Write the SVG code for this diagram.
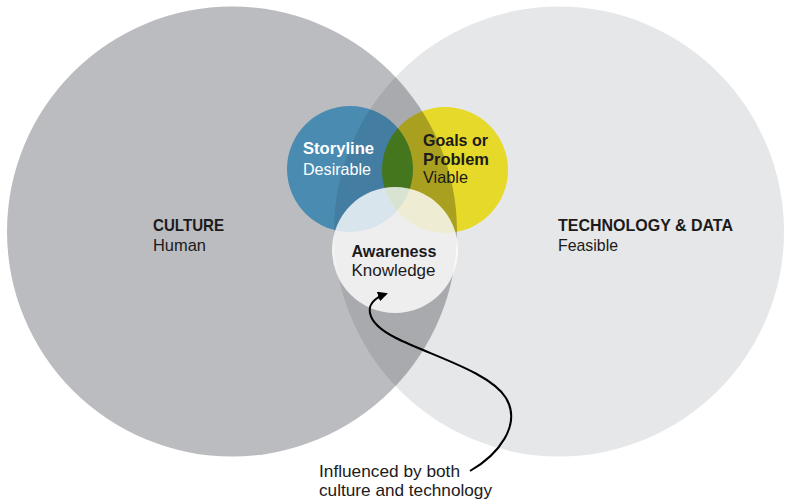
<svg xmlns="http://www.w3.org/2000/svg" width="787" height="503" viewBox="0 0 787 503">
<style>
text{font-family:"Liberation Sans",Arial,sans-serif;font-size:17px;fill:#1c1a1b}
.b{font-weight:bold}
.w{fill:#ffffff}
.mul{mix-blend-mode:multiply}
.sm{font-size:16.5px}
</style>
<defs>
<marker id="ah" viewBox="0 0 10 10" refX="8" refY="5" markerWidth="5" markerHeight="5" orient="auto" markerUnits="strokeWidth">
<path d="M0,0 L10,5 L0,10 Z" fill="#000"/>
</marker>
</defs>
<rect width="787" height="503" fill="#ffffff"/>
<g style="isolation:isolate">
<g id="culture">
<circle cx="232" cy="231.5" r="225" fill="#bbbcbf"/>
</g>
<g id="technology">
<circle class="mul" cx="559" cy="231.5" r="225" fill="#e6e7e8"/>
</g>
<g id="storyline">
<circle class="mul" cx="350" cy="169" r="63" fill="#65bcec"/>
</g>
<g id="goals">
<circle class="mul" cx="445" cy="170" r="63" fill="#fff02e"/>
</g>
<g id="awareness">
<circle cx="395" cy="250" r="63" fill="#ffffff" fill-opacity="0.8"/>
</g>
</g>
<g id="labels">
<text class="b" x="153" y="231" textLength="71" lengthAdjust="spacingAndGlyphs">CULTURE</text>
<text x="153" y="251" textLength="53" lengthAdjust="spacingAndGlyphs">Human</text>
<text class="b" x="558" y="230.5" textLength="175" lengthAdjust="spacingAndGlyphs">TECHNOLOGY &amp; DATA</text>
<text x="558" y="251" textLength="60" lengthAdjust="spacingAndGlyphs">Feasible</text>
<text class="b w sm" x="303" y="154" textLength="71" lengthAdjust="spacingAndGlyphs">Storyline</text>
<text class="w sm" x="303" y="175" textLength="68" lengthAdjust="spacingAndGlyphs">Desirable</text>
<text class="b sm" x="423" y="145.5" textLength="65" lengthAdjust="spacingAndGlyphs">Goals or</text>
<text class="b sm" x="423" y="164.5" textLength="66" lengthAdjust="spacingAndGlyphs">Problem</text>
<text class="sm" x="423" y="183" textLength="45" lengthAdjust="spacingAndGlyphs">Viable</text>
<text class="b sm" x="351.5" y="257" textLength="85" lengthAdjust="spacingAndGlyphs">Awareness</text>
<text class="sm" x="351.5" y="276" textLength="84" lengthAdjust="spacingAndGlyphs">Knowledge</text>
<text x="319" y="477" textLength="141" lengthAdjust="spacingAndGlyphs">Influenced by both</text>
<text x="319" y="496" textLength="173" lengthAdjust="spacingAndGlyphs">culture and technology</text>
</g>
<g id="connectors">
<path d="M470,471 C498,455 522,425 506,398 C490,372 432,356 396,338 C364,322 362,302 386,294" fill="none" stroke="#000" stroke-width="2" marker-end="url(#ah)"/>
</g>
</svg>
